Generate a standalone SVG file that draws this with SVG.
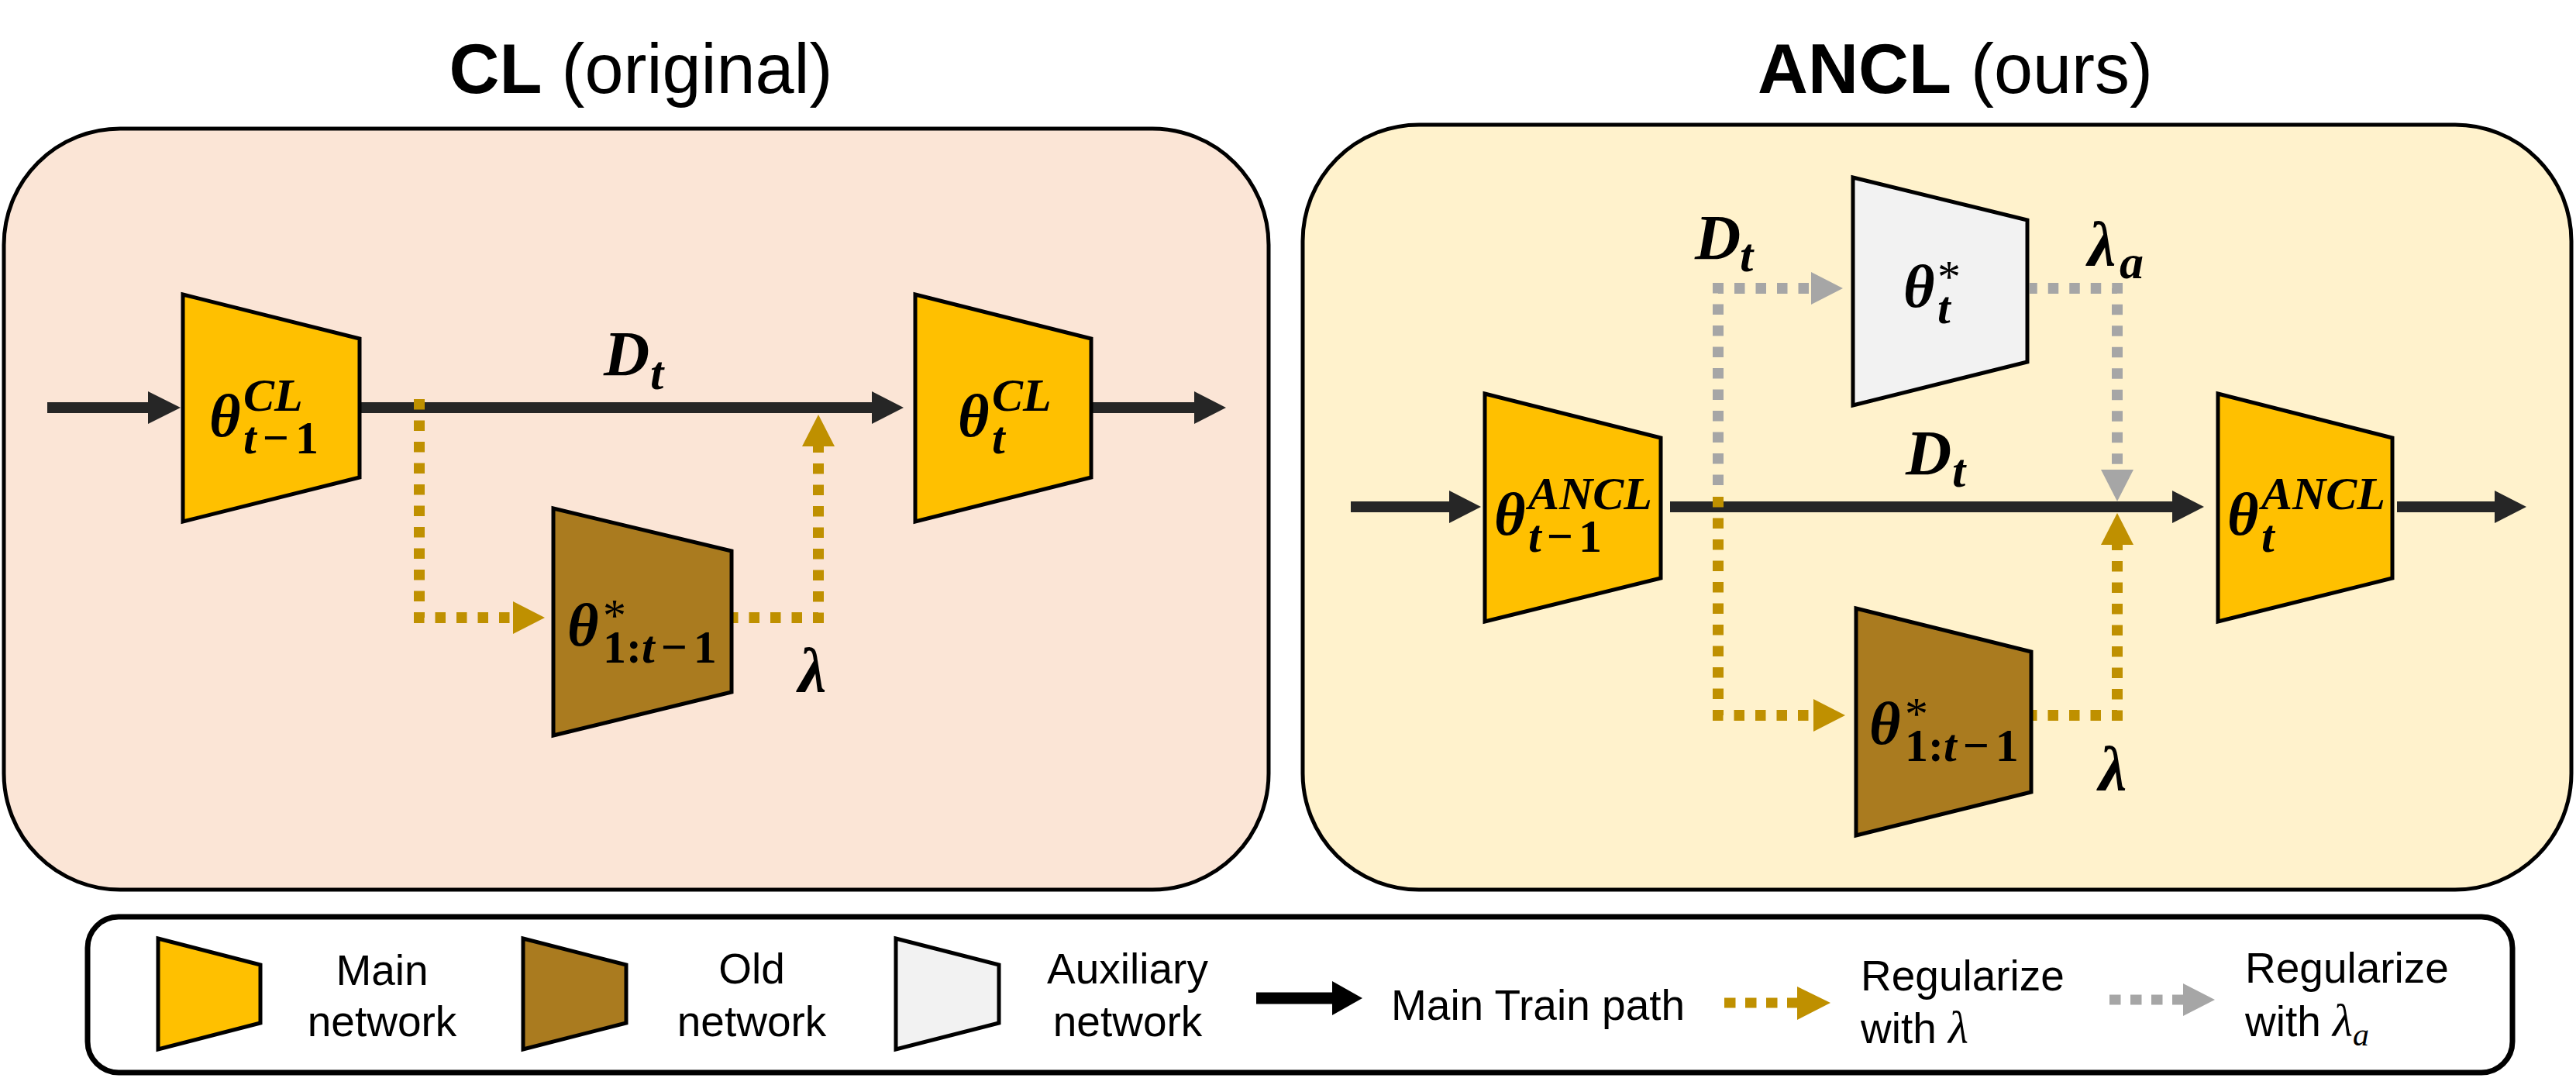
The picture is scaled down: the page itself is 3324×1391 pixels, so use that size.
<svg xmlns="http://www.w3.org/2000/svg" width="3324" height="1391" viewBox="0 0 3324 1391">
<defs>
<style>
.title{font-family:'Liberation Sans',Arial,sans-serif;font-size:90px;fill:#000}
.panel{stroke:#000;stroke-width:5}
.trap{stroke:#000;stroke-width:5;stroke-linejoin:miter}
.main{fill:#FFC000}
.old{fill:#AA7B1F}
.aux{fill:#F2F2F2}
.m{font-family:'Liberation Serif','Times New Roman',serif;font-weight:bold;font-style:italic;font-size:78px;fill:#000}
.ms{font-size:60px}
.mt{font-size:62px}
.ml{font-family:'Liberation Serif','Times New Roman',serif;font-weight:bold;font-style:italic;font-size:82px;fill:#000}
.up{font-style:normal}
.star{font-weight:normal;font-style:normal}
.line{stroke:#262626;stroke-width:14;fill:none}
.head{fill:#262626}
.gold{stroke:#BF9000;stroke-width:14;fill:none;stroke-dasharray:13.5 14;stroke-linejoin:miter}
.gray{stroke:#A6A6A6;stroke-width:14;fill:none;stroke-dasharray:13.5 14;stroke-linejoin:miter}
.goldh{fill:#BF9000}
.grayh{fill:#A6A6A6}
.lt{font-family:'Liberation Sans',Arial,sans-serif;font-size:55px;fill:#000}
.li{font-family:'Liberation Serif','Times New Roman',serif;font-style:italic;font-size:60px}
.lsub{font-family:'Liberation Serif','Times New Roman',serif;font-style:italic;font-size:42px}
</style>
</defs>
<rect width="3324" height="1391" fill="#FFFFFF"/>

<g id="panel-cl">
<rect class="panel" x="5" y="166" width="1632" height="982" rx="150" ry="150" fill="#FBE5D6"/>
<text class="title" x="827" y="120" text-anchor="middle"><tspan font-weight="bold">CL</tspan> (original)</text>
</g>
<g id="panel-ancl">
<rect class="panel" x="1681" y="161" width="1637" height="987" rx="150" ry="150" fill="#FFF2CC"/>
<text class="title" x="2523" y="120" text-anchor="middle"><tspan font-weight="bold">ANCL</tspan> (ours)</text>
</g>

<g id="connectors">
<line class="line" x1="61" y1="526" x2="194" y2="526"/>
<polygon class="head" points="191,505 233,526 191,547"/>
<line class="line" x1="464" y1="526" x2="1128" y2="526"/>
<polygon class="head" points="1125,505 1166,526 1125,547"/>
<line class="line" x1="1410" y1="526" x2="1544" y2="526"/>
<polygon class="head" points="1541,505 1582,526 1541,547"/>
<path class="gold" d="M541,515 V797 H662"/>
<polygon class="goldh" points="662,776 703,797 662,818"/>
<path class="gold" d="M945,797 H1056 V576" stroke-dashoffset="6"/>
<polygon class="goldh" points="1035,576 1056,535 1077,576"/>
<line class="line" x1="1743" y1="654" x2="1873" y2="654"/>
<polygon class="head" points="1870,633 1911,654 1870,675"/>
<line class="line" x1="2155" y1="654" x2="2806" y2="654"/>
<polygon class="head" points="2803,633 2844,654 2803,675"/>
<line class="line" x1="3093" y1="654" x2="3222" y2="654"/>
<polygon class="head" points="3219,633 3260,654 3219,675"/>
<path class="gray" d="M2217,626 V372 H2337"/>
<polygon class="grayh" points="2337,351 2378,372 2337,393"/>
<path class="gray" d="M2619,372 H2732 V606" stroke-dashoffset="3.75"/>
<polygon class="grayh" points="2711,606 2732,647 2753,606"/>
<path class="gold" d="M2217,641 V923 H2340"/>
<polygon class="goldh" points="2340,902 2381,923 2340,944"/>
<path class="gold" d="M2621,923 H2732 V703" stroke-dashoffset="6"/>
<polygon class="goldh" points="2711,703 2732,662 2753,703"/>
</g>

<g id="edge-labels">
<text class="ml" x="779" y="484">D<tspan class="mt" x="839" y="502">t</tspan></text>
<text class="ml" x="1030" y="893">λ</text>
<text class="ml" x="2187" y="334">D<tspan class="mt" x="2245" y="350">t</tspan></text>
<text class="ml" x="2459" y="612">D<tspan class="mt" x="2519" y="628">t</tspan></text>
<text class="ml" x="2694" y="343">λ<tspan class="mt" x="2735" y="359">a</tspan></text>
<text class="ml" x="2708" y="1020">λ</text>
</g>

<g id="node-cl-prev">
<polygon class="trap main" points="236,380 464,437 464,616 236,673"/>
<text class="m" x="270" y="563">θ<tspan class="ms" x="314" y="530">CL</tspan><tspan class="ms" x="314" y="585">t<tspan class="up" dx="8">−</tspan><tspan class="up" dx="8">1</tspan></tspan></text>
</g>
<g id="node-cl-cur">
<polygon class="trap main" points="1181,380 1408,437 1408,616 1181,673"/>
<text class="m" x="1236" y="563">θ<tspan class="ms" x="1280" y="530">CL</tspan><tspan class="ms" x="1280" y="585">t</tspan></text>
</g>
<g id="node-cl-old">
<polygon class="trap old" points="714,656 944,711 944,893 714,949"/>
<text class="m" x="732" y="833">θ<tspan class="ms star" x="778" y="814">*</tspan><tspan class="ms up" x="778" y="855">1:<tspan font-style="italic">t</tspan><tspan dx="8">−</tspan><tspan dx="8">1</tspan></tspan></text>
</g>

<g id="node-ancl-aux">
<polygon class="trap aux" points="2391,229 2616,284 2616,467 2391,523"/>
<text class="m" x="2456" y="396">θ<tspan class="ms star" x="2500" y="377">*</tspan><tspan class="ms" x="2500" y="417">t</tspan></text>
</g>
<g id="node-ancl-prev">
<polygon class="trap main" points="1916,508 2143,565 2143,746 1916,802"/>
<text class="m" x="1928" y="690">θ<tspan class="ms" x="1972" y="657">ANCL</tspan><tspan class="ms" x="1972" y="712">t<tspan class="up" dx="7">−</tspan><tspan class="up" dx="7">1</tspan></tspan></text>
</g>
<g id="node-ancl-cur">
<polygon class="trap main" points="2862,508 3087,565 3087,746 2862,802"/>
<text class="m" x="2874" y="690">θ<tspan class="ms" x="2918" y="657">ANCL</tspan><tspan class="ms" x="2918" y="712">t</tspan></text>
</g>
<g id="node-ancl-old">
<polygon class="trap old" points="2395,785 2621,841 2621,1022 2395,1078"/>
<text class="m" x="2412" y="960">θ<tspan class="ms star" x="2458" y="941">*</tspan><tspan class="ms up" x="2458" y="982">1:<tspan font-style="italic">t</tspan><tspan dx="8">−</tspan><tspan dx="8">1</tspan></tspan></text>
</g>

<g id="legend">
<rect x="113" y="1183" width="3129" height="201" rx="40" ry="40" fill="#FFFFFF" stroke="#000" stroke-width="7"/>
<polygon class="trap main" points="204,1211 336,1245 336,1320 204,1354"/>
<text class="lt" text-anchor="middle"><tspan x="493" y="1271">Main</tspan><tspan x="493" y="1337">network</tspan></text>
<polygon class="trap old" points="675,1211 808,1245 808,1320 675,1354"/>
<text class="lt" text-anchor="middle"><tspan x="970" y="1269">Old</tspan><tspan x="970" y="1337">network</tspan></text>
<polygon class="trap aux" points="1156,1211 1289,1245 1289,1320 1156,1354"/>
<text class="lt" text-anchor="middle"><tspan x="1455" y="1269">Auxiliary</tspan><tspan x="1455" y="1337">network</tspan></text>
<line x1="1621" y1="1288" x2="1722" y2="1288" stroke="#000" stroke-width="15"/>
<polygon points="1719,1266 1758,1288 1719,1310" fill="#000"/>
<text class="lt" x="1795" y="1316">Main Train path</text>
<line x1="2225" y1="1294" x2="2319" y2="1294" stroke="#BF9000" stroke-width="13" stroke-dasharray="14.5 12.5"/>
<polygon class="goldh" points="2319,1273 2362,1294 2319,1316"/>
<text class="lt"><tspan x="2401" y="1278">Regularize</tspan><tspan x="2401" y="1346">with <tspan class="li">λ</tspan></tspan></text>
<line x1="2722" y1="1290" x2="2817" y2="1290" stroke="#A6A6A6" stroke-width="13" stroke-dasharray="14.5 12.5"/>
<polygon class="grayh" points="2817,1269 2858,1290 2817,1311"/>
<text class="lt"><tspan x="2897" y="1268">Regularize</tspan><tspan x="2897" y="1337">with <tspan class="li">λ</tspan><tspan class="lsub" dy="12">a</tspan></tspan></text>
</g>
</svg>
